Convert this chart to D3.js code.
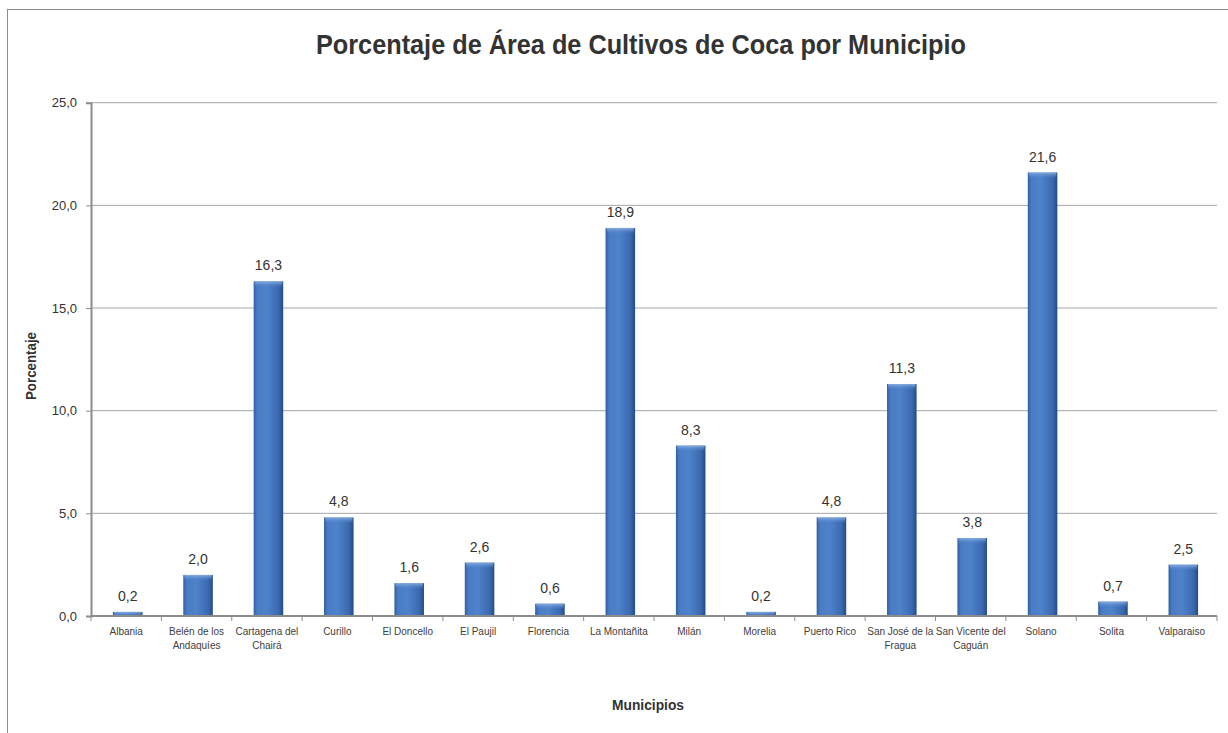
<!DOCTYPE html>
<html><head><meta charset="utf-8">
<script src="https://cdn.jsdelivr.net/npm/d3@7/dist/d3.min.js"></script>
<style>body{margin:0;background:#fff}svg{display:block}</style>
</head><body>
<svg id="c" width="1228" height="733"></svg>
<script>
const categories = [["Albania"],["Belén de los","Andaquíes"],["Cartagena del","Chairá"],["Curillo"],["El Doncello"],["El Paujil"],["Florencia"],["La Montañita"],["Milán"],["Morelia"],["Puerto Rico"],["San José de la","Fragua"],["San Vicente del","Caguán"],["Solano"],["Solita"],["Valparaiso"]];
const values = [0.2,2.0,16.3,4.8,1.6,2.6,0.6,18.9,8.3,0.2,4.8,11.3,3.8,21.6,0.7,2.5];
const yTicks = [0,5,10,15,20,25];
const title = "Porcentaje de Área de Cultivos de Coca por Municipio";
const xTitle = "Municipios", yTitle = "Porcentaje";

const fmt = v => d3.format(".1f")(v).replace(".", ",");
const svg = d3.select("#c");
const font = "'Liberation Sans Narrow','Liberation Sans',Arial,sans-serif";
svg.append("rect").attr("x",7.5).attr("y",9.5).attr("width",1240).attr("height",760)
  .attr("fill","#fff").attr("stroke","#8c8c8c").attr("stroke-width",1);

const m = {l:91, r:1217, t:102.7, b:616};
const xb = d3.scaleBand().domain(d3.range(categories.length)).range([m.l,m.r]);
const bw = xb.bandwidth()*0.42;
const bx = i => xb(i) + xb.bandwidth()/2 + 1.5 - bw/2;
const y = d3.scaleLinear().domain([0,25]).range([m.b,m.t]);

const defs = svg.append("defs");
const g1 = defs.append("linearGradient").attr("id","bar").attr("x1","0").attr("x2","1").attr("y1","0").attr("y2","0");
[[0,"#2f5ea3"],[0.12,"#4a7cc4"],[0.45,"#4e82cb"],[0.85,"#3a68ae"],[1,"#234b86"]].forEach(s=>g1.append("stop").attr("offset",s[0]).attr("stop-color",s[1]));
const g2 = defs.append("linearGradient").attr("id","top").attr("x1","0").attr("x2","0").attr("y1","0").attr("y2","1");
[[0,"#8fb2e3",0.9],[1,"#4d80c9",0]].forEach(s=>g2.append("stop").attr("offset",s[0]).attr("stop-color",s[1]).attr("stop-opacity",s[2]));

// gridlines
svg.append("g").selectAll("line").data(yTicks.filter(d=>d>0)).join("line")
  .attr("x1",m.l).attr("x2",m.r).attr("y1",d=>y(d)).attr("y2",d=>y(d))
  .attr("stroke","#a6a6a6").attr("stroke-width",1);

// y axis
const ya = svg.append("g").attr("transform",`translate(${m.l},0)`).call(d3.axisLeft(y).tickValues(yTicks).tickFormat(fmt).tickSize(5).tickPadding(9));
ya.select(".domain").attr("stroke","#8c8c8c").attr("stroke-width",2);
ya.selectAll(".tick line").attr("stroke","#8c8c8c");
ya.selectAll("text").attr("font-family",font).attr("font-size",13).attr("fill","#333");

// bars
const bars = svg.append("g");
bars.selectAll("rect.b").data(values).join("rect").attr("class","b")
  .attr("x",(d,i)=>bx(i)).attr("width",bw)
  .attr("y",d=>y(d)).attr("height",d=>y(0)-y(d)).attr("fill","url(#bar)");
bars.selectAll("rect.t").data(values).join("rect").attr("class","t")
  .attr("x",(d,i)=>bx(i)+1).attr("width",bw-2)
  .attr("y",d=>y(d)).attr("height",d=>Math.min(6,y(0)-y(d))).attr("fill","url(#top)");

// x axis
const xa = svg.append("g").attr("transform",`translate(0,${m.b})`);
xa.append("line").attr("x1",m.l).attr("x2",m.r).attr("stroke","#8c8c8c").attr("stroke-width",2);
xa.selectAll("line.tk").data(d3.range(categories.length+1)).join("line").attr("class","tk")
  .attr("x1",i=>m.l+i*xb.step()).attr("x2",i=>m.l+i*xb.step()).attr("y1",0).attr("y2",5).attr("stroke","#8c8c8c");
const lab = xa.selectAll("text").data(categories).join("text")
  .attr("text-anchor","middle").attr("font-family",font).attr("font-size",10).attr("fill","#404040");
lab.each(function(d,i){
  d3.select(this).selectAll("tspan").data(d).join("tspan")
    .attr("x",xb(i)+xb.bandwidth()/2).attr("y",(t,j)=>19+j*14).text(t=>t);
});

// value labels
svg.append("g").selectAll("text").data(values).join("text")
  .attr("x",(d,i)=>bx(i)+bw/2).attr("y",d=>y(d)-11)
  .attr("text-anchor","middle").attr("font-family",font).attr("font-size",14).attr("fill","#333")
  .text(fmt);

// titles
svg.append("text").attr("x",641).attr("y",54).attr("text-anchor","middle")
  .attr("textLength",650).attr("lengthAdjust","spacingAndGlyphs")
  .attr("font-family",font).attr("font-weight","bold").attr("font-size",28).attr("fill","#333").text(title);
svg.append("text").attr("x",648).attr("y",710).attr("text-anchor","middle")
  .attr("textLength",72).attr("lengthAdjust","spacingAndGlyphs")
  .attr("font-family",font).attr("font-weight","bold").attr("font-size",14).attr("fill","#333").text(xTitle);
svg.append("text").attr("transform","translate(36,366) rotate(-90)").attr("text-anchor","middle")
  .attr("textLength",68).attr("lengthAdjust","spacingAndGlyphs")
  .attr("font-family",font).attr("font-weight","bold").attr("font-size",14).attr("fill","#333").text(yTitle);
</script>
</body></html>
